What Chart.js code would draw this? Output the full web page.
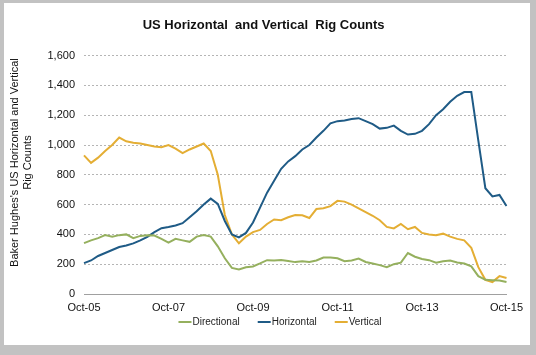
<!DOCTYPE html>
<html>
<head>
<meta charset="utf-8">
<script src="https://cdn.jsdelivr.net/npm/chart.js@4"></script>
<style>
  html, body { margin: 0; padding: 0; }
  body { width: 536px; height: 355px; background: #c2c2c2; position: relative; overflow: hidden; }
  #panel { position: absolute; left: 4px; top: 3px; width: 526px; height: 342px; background: #ffffff; }
  canvas { display: block; }
</style>
</head>
<body>
<div id="panel"><canvas id="c" width="526" height="342"></canvas></div>
<script>
const months = [
  'Oct-05','Dec-05',
  'Feb-06','Apr-06','Jun-06','Aug-06','Oct-06','Dec-06',
  'Feb-07','Apr-07','Jun-07','Aug-07','Oct-07','Dec-07',
  'Feb-08','Apr-08','Jun-08','Aug-08','Oct-08','Dec-08',
  'Feb-09','Apr-09','Jun-09','Aug-09','Oct-09','Dec-09',
  'Feb-10','Apr-10','Jun-10','Aug-10','Oct-10','Dec-10',
  'Feb-11','Apr-11','Jun-11','Aug-11','Oct-11','Dec-11',
  'Feb-12','Apr-12','Jun-12','Aug-12','Oct-12','Dec-12',
  'Feb-13','Apr-13','Jun-13','Aug-13','Oct-13','Dec-13',
  'Feb-14','Apr-14','Jun-14','Aug-14','Oct-14','Dec-14',
  'Feb-15','Apr-15','Jun-15','Aug-15','Oct-15'
];
const tickLabels = ['Oct-05','Oct-07','Oct-09','Oct-11','Oct-13','Oct-15'];
const yTicks = [0, 200, 400, 600, 800, 1000, 1200, 1400, 1600];

const directional = [
  341, 360, 375, 395, 385, 395, 400, 375, 390, 395, 392, 370, 345, 370, 360, 350,
  385, 395, 385, 320, 240, 175, 165, 180, 185, 205, 227, 225, 228, 222, 214, 220,
  215, 225, 245, 245, 240, 220, 225, 238, 215, 205, 194, 180, 200, 210, 275, 250,
  235, 227, 210, 220, 225, 212, 205, 185, 120, 95, 92, 90, 80
];
const horizontal = [
  207, 225, 255, 275, 295, 315, 325, 340, 360, 383, 415, 442, 450, 460, 475, 515,
  555, 600, 640, 605, 490, 400, 380, 410, 480, 580, 680, 760, 840, 890, 925, 970,
  1000, 1050, 1095, 1145, 1160, 1165, 1175, 1180, 1160, 1140, 1110, 1115, 1130, 1095, 1070, 1075,
  1095, 1140, 1200, 1240, 1290, 1330, 1355, 1355, 1030, 710, 655, 665, 590
];
const vertical = [
  930, 880, 915, 960, 1000, 1050, 1025, 1015, 1010, 1000, 990, 985, 1000, 975, 945, 970,
  990, 1010, 960, 800, 530, 400, 340, 385, 415, 430, 470, 500, 495, 515, 530, 528,
  510, 570, 575, 590, 625, 620, 600, 575, 550, 525, 495, 450, 440, 470, 435, 450,
  410, 400, 395, 405, 385, 370, 360, 310, 180, 95, 80, 120, 107
];

const FONT = "'Liberation Sans', Arial, sans-serif";

// Legend drawn from the chart's own datasets (line swatch + label)
const lineLegend = {
  id: 'lineLegend',
  afterDraw(chart) {
    const ctx = chart.ctx;
    const sets = chart.data.datasets;
    const swatch = 13, gapText = 1, gapItem = 18, cy = 319, cx = 276;
    ctx.save();
    ctx.font = '10px ' + FONT;
    ctx.textBaseline = 'middle';
    ctx.textAlign = 'left';
    const widths = sets.map(d => swatch + gapText + ctx.measureText(d.label).width);
    const total = widths.reduce((a, b) => a + b, 0) + gapItem * (sets.length - 1);
    let x = cx - total / 2;
    sets.forEach((d, i) => {
      ctx.strokeStyle = d.borderColor;
      ctx.lineWidth = 2;
      ctx.beginPath();
      ctx.moveTo(x, cy);
      ctx.lineTo(x + swatch, cy);
      ctx.stroke();
      ctx.fillStyle = '#222';
      ctx.fillText(d.label, x + swatch + gapText, cy + 0.5);
      x += widths[i] + gapItem;
    });
    ctx.restore();
  }
};

new Chart(document.getElementById('c'), {
  type: 'line',
  data: {
    labels: months,
    datasets: [
      { label: 'Directional', data: directional, borderColor: '#95b05e', backgroundColor: '#95b05e', borderWidth: 2, pointRadius: 0, tension: 0 },
      { label: 'Horizontal', data: horizontal, borderColor: '#1f5b86', backgroundColor: '#1f5b86', borderWidth: 2, pointRadius: 0, tension: 0 },
      { label: 'Vertical', data: vertical, borderColor: '#e4ae34', backgroundColor: '#e4ae34', borderWidth: 2, pointRadius: 0, tension: 0 }
    ]
  },
  plugins: [lineLegend],
  options: {
    responsive: false,
    animation: false,
    layout: { padding: { left: 0, right: 14, top: 0, bottom: 31 } },
    plugins: {
      title: {
        display: true,
        text: '  US Horizontal  and Vertical  Rig Counts',
        color: '#111',
        font: { family: FONT, size: 13, weight: 'bold' },
        padding: { top: 15, bottom: 22 }
      },
      legend: { display: false },
      tooltip: { enabled: false }
    },
    scales: {
      x: {
        offset: false,
        afterFit: (s) => { s.height = 20; },
        grid: { display: false, drawTicks: false },
        border: { display: true, color: '#a0a0a0', width: 1 },
        ticks: {
          autoSkip: false,
          maxRotation: 0,
          color: '#111',
          font: { family: FONT, size: 11 },
          padding: 7,
          callback: function (v, i) { const l = months[i]; return tickLabels.includes(l) ? l : ''; }
        }
      },
      y: {
        min: 0,
        max: 1600,
        afterBuildTicks: (s) => { s.ticks = yTicks.map(v => ({ value: v })); },
        afterFit: (s) => { s.width = 80; },
        grid: { color: '#b5b5b5', lineWidth: 1, drawTicks: false },
        border: { display: false, dash: [2, 2] },
        ticks: {
          color: '#111',
          font: { family: FONT, size: 11 },
          padding: 9,
          callback: (v) => v.toLocaleString('en-US')
        },
        title: {
          display: true,
          text: ["        Baker Hughes's US Horizontal and Vertical", '        Rig Counts'],
          color: '#111',
          font: { family: FONT, size: 11 },
          padding: { top: 4, bottom: 0 }
        }
      }
    }
  }
});
</script>
</body>
</html>
